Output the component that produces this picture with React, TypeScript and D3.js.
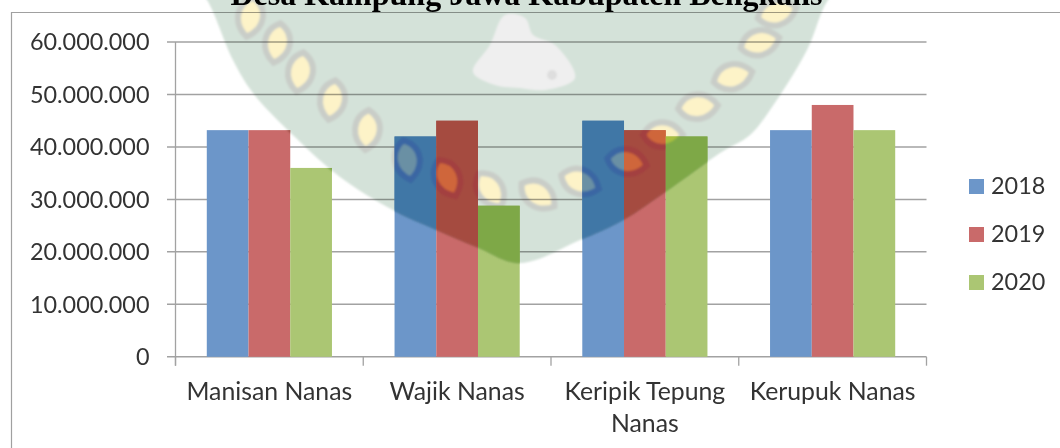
import React from "react";
import * as d3 from "d3";

const categories = ["Manisan Nanas", "Wajik Nanas", "Keripik Tepung Nanas", "Kerupuk Nanas"];
const categoryLines = [["Manisan Nanas"], ["Wajik Nanas"], ["Keripik Tepung", "Nanas"], ["Kerupuk Nanas"]];
const seriesNames = ["2018", "2019", "2020"];
const values2018 = [43200000, 42000000, 45000000, 43200000];
const values2019 = [43200000, 45000000, 43200000, 48000000];
const values2020 = [36000000, 28800000, 42000000, 43200000];
const seriesValues = [values2018, values2019, values2020];
const yTicks = [0, 10000000, 20000000, 30000000, 40000000, 50000000, 60000000];
const barColors = ["#6c96c9", "#c96a6a", "#abc673"];
const barDark = ["#3f77a6", "#a54b40", "#7ea847"];
const leafOnBar = ["#6a90a4", "#cf663a", "#a9bf3f"];
const ringOnBar = ["#3a66a3", "#a33f3f", "#7ea847"];
const titleText = "Desa Kampung Jawa Kabupaten Bengkalis";

// background watermark (decorative stamp behind the chart)
const sealOutline: [number, number][] = [
  [190, -20], [207, 0], [233, 60], [253, 93], [295, 137], [340, 177], [393, 210], [437, 230], [477, 247],
  [520, 263], [580, 240], [623, 220], [665, 192], [720, 153], [750, 135], [770, 110], [807, 50], [828, 0], [850, -20],
];
const sealLeaves: [number, number, number][] = [
  [250, 17, 100], [277, 43, 100], [300, 72, 100], [332, 100, 100], [367, 130, 95], [407, 160, 80], [447, 178, 65],
  [490, 190, 55], [538, 195, 35], [580, 182, 20], [627, 162, 10], [663, 135, 0], [698, 107, -5], [733, 77, -15],
  [760, 43, -15], [777, 13, -15],
];
const emblem: [number, number][] = [
  [505, 15], [525, 18], [533, 35], [555, 45], [575, 78], [545, 90], [520, 88], [495, 85], [473, 72], [490, 45],
];

const fmt = (v: number) => d3.format(",")(v).replace(/,/g, ".");
const FONT = "Lato, sans-serif";
const TEXT = "#333333";
const GRID = "#a2a2a2";

export default function App() {
  const x0 = d3.scaleBand<string>().domain(categories).range([175.5, 926.5]).paddingInner(1 / 3).paddingOuter(1 / 6);
  const step = x0.step();
  const x1 = d3.scaleBand<string>().domain(seriesNames).range([0, x0.bandwidth()]);
  const y = d3.scaleLinear().domain([0, 60000000]).range([356.8, 42]);
  const closed = d3.line().curve(d3.curveCatmullRomClosed.alpha(0.5));
  const sealPath = closed(sealOutline) as string;
  const leafPath = "M-20,0 C-11,-17 9,-17 20,0 C9,16 -11,16 -20,0 Z";
  const bars = seriesNames.flatMap((s, si) =>
    categories.map((c, ci) => ({
      key: `${s}-${c}`,
      si,
      x: (x0(c) as number) + (x1(s) as number),
      w: x1.bandwidth(),
      top: y(seriesValues[si][ci]),
    }))
  );
  const leaves = (stroke: string, fill: string) =>
    sealLeaves.map(([lx, ly, r], i) => (
      <path key={i} d={leafPath} transform={`translate(${lx},${ly}) rotate(${r})`} fill={fill} stroke={stroke} strokeWidth={6} />
    ));
  const xTickPositions = d3.range(categories.length + 1).map((i) => 175.5 + i * step);

  return (
    <svg width={1060} height={448} style={{ position: "absolute", left: 0, top: 0, background: "#fff" }}>
      <defs>
        <clipPath id="seal"><path d={sealPath} /></clipPath>
        <filter id="soft" x="-5%" y="-5%" width="110%" height="110%"><feGaussianBlur stdDeviation="1.2" /></filter>
        {bars.map((b) => (
          <clipPath key={b.key} id={`bar-${b.key.replace(/\s/g, "")}`}>
            <rect x={b.x} y={b.top} width={b.w} height={y(0) - b.top} />
          </clipPath>
        ))}
      </defs>

      {/* frame */}
      <path d="M11.5,448 V12.5 H1060" fill="none" stroke="#a0a0a0" strokeWidth={1.2} />

      {/* gridlines */}
      {yTicks.map((t) => (
        <line key={t} x1={167} x2={926.5} y1={y(t)} y2={y(t)} stroke={GRID} strokeWidth={1.5} />
      ))}
      <line x1={175.5} x2={175.5} y1={42} y2={365.7} stroke={GRID} strokeWidth={1.3} />
      {xTickPositions.map((p) => (
        <line key={p} x1={p} x2={p} y1={356.8} y2={365.7} stroke={GRID} strokeWidth={1.3} />
      ))}

      {/* bars */}
      {bars.map((b) => (
        <rect key={b.key} x={b.x} y={b.top} width={b.w} height={y(0) - b.top} fill={barColors[b.si]} />
      ))}

      {/* watermark */}
      <g style={{ mixBlendMode: "multiply" }} filter="url(#soft)">
        <path d={sealPath} fill="#d4e2d9" />
        <g clipPath="url(#seal)">
          {leaves("#c9cdc8", "#fdf3c8")}
        </g>
        <path d={closed(emblem) as string} fill="#efefef" />
        <circle cx={552} cy={75} r={5} fill="#dedede" />
      </g>

      {/* watermark where it crosses the bars */}
      {bars.map((b) => (
        <g key={b.key} clipPath={`url(#bar-${b.key.replace(/\s/g, "")})`}>
          <g filter="url(#soft)">
            <path d={sealPath} fill={barDark[b.si]} />
            <g clipPath="url(#seal)">{leaves(ringOnBar[b.si], leafOnBar[b.si])}</g>
          </g>
        </g>
      ))}

      {/* y labels */}
      {yTicks.map((t) => (
        <text key={t} x={149.5} y={y(t) + 8.2} textAnchor="end" fontFamily={FONT} fontSize={23.4} fill={TEXT}>
          {fmt(t)}
        </text>
      ))}

      {/* category labels */}
      {categories.map((c, i) => (
        <text key={c} textAnchor="middle" fontFamily={FONT} fontSize={24.8} fill={TEXT}>
          {categoryLines[i].map((line, li) => (
            <tspan key={li} x={(x0(c) as number) + x0.bandwidth() / 2} y={400 + li * 31.7}>{line}</tspan>
          ))}
        </text>
      ))}

      {/* legend */}
      {seriesNames.map((s, i) => (
        <g key={s} transform={`translate(969,${179 + i * 48})`}>
          <rect width={15} height={15} fill={barColors[i]} />
          <text x={22} y={15} fontFamily={FONT} fontSize={23.4} fill={TEXT}>{s}</text>
        </g>
      ))}

      {/* title, cut off by the top of the page */}
      <text x={526.5} y={5} textAnchor="middle" fontFamily="'Liberation Serif', serif" fontWeight="bold" fontSize={32} fill="#000">
        {titleText}
      </text>
    </svg>
  );
}
